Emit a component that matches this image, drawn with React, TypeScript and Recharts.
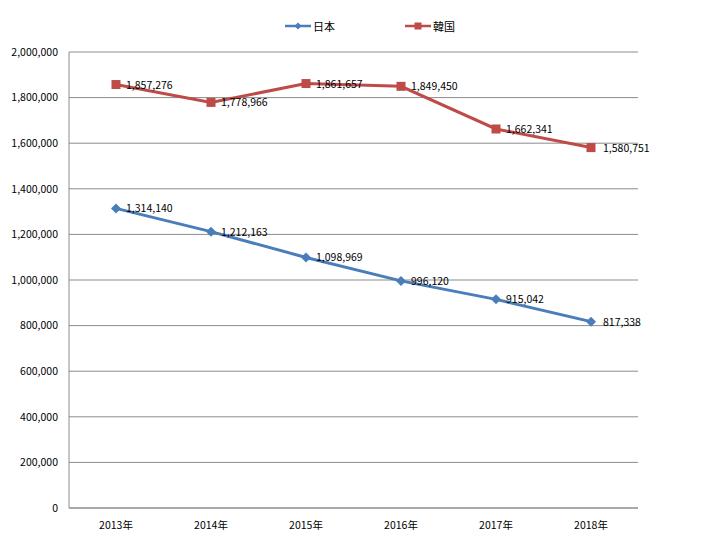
import React from "react";
import { LineChart, Line, XAxis, YAxis, CartesianGrid } from "recharts";

const years = ["2013年", "2014年", "2015年", "2016年", "2017年", "2018年"];
const japan = [1314140, 1212163, 1098969, 996120, 915042, 817338];
const korea = [1857276, 1778966, 1861657, 1849450, 1662341, 1580751];
const yTicks = [0, 200000, 400000, 600000, 800000, 1000000, 1200000, 1400000, 1600000, 1800000, 2000000];

const data = years.map((y, i) => ({ year: y, japan: japan[i], korea: korea[i] }));

const BLUE = "#4A7EBB";
const RED = "#BE4B48";
const FONT = "'Noto Sans CJK JP', 'DejaVu Sans', sans-serif";

const fmt = (v: number) => v.toLocaleString("en-US");

const Diamond = (props: any) => {
  const { cx, cy } = props;
  if (cx == null || cy == null) return null;
  const r = 5;
  return <path d={`M${cx},${cy - r}L${cx + r},${cy}L${cx},${cy + r}L${cx - r},${cy}Z`} fill={BLUE} />;
};

const Square = (props: any) => {
  const { cx, cy } = props;
  if (cx == null || cy == null) return null;
  return <rect x={cx - 4.5} y={cy - 4.5} width={9} height={9} fill={RED} />;
};

const makeLabel = (last: number) => (props: any) => {
  const { x, y, value, index } = props;
  return (
    <text x={x + (index === last ? 12 : 10)} y={y + 4} fontSize={10.5} fill="#000" fontFamily={FONT}>
      {fmt(value)}
    </text>
  );
};

const textStyle: React.CSSProperties = {
  position: "absolute",
  top: 18,
  fontFamily: FONT,
  fontSize: 11,
  lineHeight: "16px",
  color: "#000",
};

const LegendBox = () => (
  <>
    <svg width={26} height={12} style={{ position: "absolute", left: 285, top: 20 }}>
      <line x1={0} y1={6} x2={26} y2={6} stroke={BLUE} strokeWidth={2.5} />
      <path d="M13,2.5L16.5,6L13,9.5L9.5,6Z" fill={BLUE} />
    </svg>
    <span style={{ ...textStyle, left: 313 }}>日本</span>
    <svg width={26} height={12} style={{ position: "absolute", left: 405, top: 20 }}>
      <line x1={0} y1={6} x2={26} y2={6} stroke={RED} strokeWidth={2.5} />
      <rect x={9.5} y={2.5} width={7} height={7} fill={RED} />
    </svg>
    <span style={{ ...textStyle, left: 433 }}>韓国</span>
  </>
);

export default function App() {
  return (
    <div style={{ position: "absolute", left: 0, top: 0, width: 720, height: 540, background: "#fff" }}>
      <LineChart width={720} height={540} data={data} margin={{ top: 52, right: 82, bottom: 2, left: 0 }}>
        <CartesianGrid vertical={false} stroke="#8c8c8c" strokeWidth={1} />
        <XAxis
          dataKey="year"
          height={30}
          tickLine={false}
          axisLine={{ stroke: "#8c8c8c" }}
          tick={{ fontSize: 10.5, fill: "#000", fontFamily: FONT }}
          tickMargin={8}
          padding={{ left: 47, right: 47 }}
        />
        <YAxis
          width={69}
          domain={[0, 2000000]}
          ticks={yTicks}
          tickFormatter={fmt}
          tickLine={false}
          tickSize={0}
          tickMargin={11}
          axisLine={{ stroke: "#8c8c8c" }}
          tick={{ fontSize: 10.5, fill: "#000", fontFamily: FONT }}
          interval={0}
        />
        <Line
          dataKey="japan"
          stroke={BLUE}
          strokeWidth={3}
          dot={<Diamond />}
          activeDot={false}
          label={makeLabel(5)}
          isAnimationActive={false}
        />
        <Line
          dataKey="korea"
          stroke={RED}
          strokeWidth={3}
          dot={<Square />}
          activeDot={false}
          label={makeLabel(5)}
          isAnimationActive={false}
        />
      </LineChart>
      <LegendBox />
    </div>
  );
}
